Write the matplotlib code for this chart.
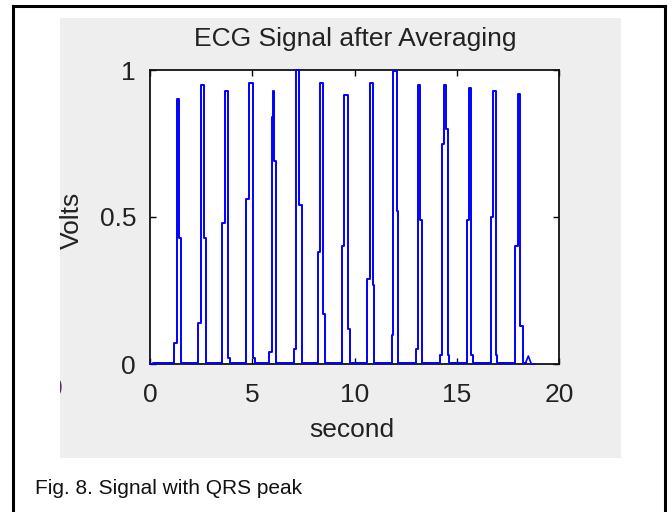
import matplotlib.pyplot as plt
from matplotlib.patches import Rectangle
from matplotlib.lines import Line2D

# ECG after averaging: each beat is a short run of held levels (seconds, volts)
base = 0.005
beat_times = [
    [1.17, 1.30, 1.43, 1.52],
    [2.36, 2.48, 2.64, 2.72],
    [3.54, 3.67, 3.83, 3.91],
    [4.69, 4.86, 5.02, 5.12],
    [5.84, 5.95, 6.03, 6.08, 6.16],
    [7.04, 7.14, 7.30, 7.42],
    [8.23, 8.33, 8.48, 8.57],
    [9.40, 9.50, 9.67, 9.78],
    [10.63, 10.76, 10.89, 10.97],
    [11.82, 11.90, 12.06, 12.14],
    [13.01, 13.09, 13.22, 13.30],
    [14.18, 14.26, 14.39, 14.47, 14.55, 14.62],
    [15.49, 15.58, 15.71, 15.81],
    [16.67, 16.79, 16.92, 16.98],
    [17.87, 17.98, 18.11, 18.22],
]
beat_levels = [
    [0.07, 0.90, 0.43, base],
    [0.14, 0.95, 0.43, base],
    [0.48, 0.93, 0.02, base],
    [0.56, 0.955, 0.02, base],
    [0.04, 0.84, 0.93, 0.69, base],
    [0.05, 1.00, 0.54, base],
    [0.38, 0.955, 0.17, base],
    [0.40, 0.915, 0.12, base],
    [0.29, 0.955, 0.27, base],
    [0.10, 0.995, 0.52, base],
    [0.05, 0.95, 0.49, base],
    [0.03, 0.75, 0.95, 0.80, 0.03, base],
    [0.49, 0.94, 0.03, base],
    [0.50, 0.93, 0.03, base],
    [0.40, 0.92, 0.13, base],
]
# small wiggle at the end of the record
tail_t = [18.37, 18.50, 18.65, 18.83]
tail_v = [base, 0.027, 0.0, 0.0]

t = [0.0, 0.15]
v = [0.0, base]
for times, levels in zip(beat_times, beat_levels):
    t += times
    v += levels
t.append(tail_t[0])
v.append(base)

W, H = 672, 512
fig = plt.figure(figsize=(W / 100, H / 100), dpi=100)
fig.patch.set_facecolor("white")

def fx(px):
    return px / W

def fy(py):
    return 1 - py / H

font = ["Liberation Sans", "DejaVu Sans"]
txt = "#222222"
fs = 19

# grey panel and page frame
panel = Rectangle((fx(60), fy(458)), fx(621) - fx(60), fy(18) - fy(458),
                  transform=fig.transFigure, facecolor="#eeeeee", edgecolor="none", zorder=-5)
fig.patches.append(panel)
for xs, ys in [([13, 13], [6, 512]), ([665, 665], [6, 512]), ([13, 665], [6, 6])]:
    fig.lines.append(Line2D([fx(x) for x in xs], [fy(y) for y in ys],
                            transform=fig.transFigure, color="black", lw=2.2, zorder=-4))

ax = fig.add_axes([fx(150), fy(364), fx(559) - fx(150), fy(70) - fy(364)], zorder=2)
ax.set_facecolor("white")
ax.plot(t, v, color="blue", lw=1.4, drawstyle="steps-post", zorder=3, clip_on=False)
ax.plot(tail_t, tail_v, color="blue", lw=1.2, zorder=3, clip_on=False)

ax.set_xlim(0, 20)
ax.set_ylim(0, 1)
ax.set_xticks([0, 5, 10, 15, 20])
ax.set_yticks([0, 0.5, 1])
ax.set_yticklabels(["0", "0.5", "1"])
ax.tick_params(direction="in", length=4, width=1, top=True, right=True,
               labelsize=fs, labelcolor=txt)
ax.tick_params(axis="x", pad=14)
ax.tick_params(axis="y", pad=10)
for lab in ax.get_xticklabels() + ax.get_yticklabels():
    lab.set_family(font)
for s in ax.spines.values():
    s.set_linewidth(1.3)
    s.set_color("#111111")

fig.text(fx(355), fy(46), "ECG Signal after Averaging", ha="center", va="baseline",
         fontsize=fs, family=font, color=txt)
fig.text(fx(352), fy(430), "second", ha="center", va="center",
         fontsize=fs, family=font, color=txt)
fig.text(fx(72), fy(220), "Volts", ha="center", va="center", rotation=90,
         fontsize=fs, family=font, color=txt)

# cut-off label at the panel edge
stray = fig.text(fx(55), fy(389), "0", ha="center", va="center",
                 fontsize=fs, family=font, color="#5a2a6a")
stray.set_clip_path(panel)

fig.text(fx(35), fy(488), "Fig. 8. Signal with QRS peak", ha="left", va="center",
         fontsize=15, family=font, color="#111111")

fig.savefig("out.png", dpi=100)
